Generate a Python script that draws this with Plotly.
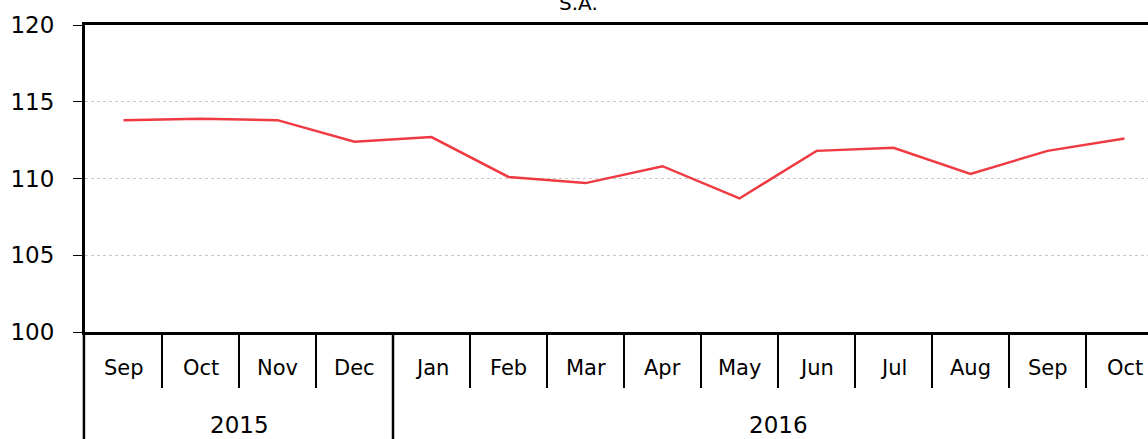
import plotly.graph_objects as go

years = ["2015"] * 4 + ["2016"] * 10
months = ["Sep", "Oct", "Nov", "Dec", "Jan", "Feb", "Mar", "Apr",
          "May", "Jun", "Jul", "Aug", "Sep", "Oct"]
values = [113.8, 113.9, 113.8, 112.4, 112.7, 110.1, 109.7, 110.8,
          108.7, 111.8, 112.0, 110.3, 111.8, 112.6]

FONT = "DejaVu Sans"
idx = list(range(len(months)))

fig = go.Figure(go.Scatter(
    x=idx, y=values,
    mode="lines",
    line=dict(color="#EF3A42", width=2.5),
    showlegend=False,
))

# plot area is 307 px tall; label rows sit below it
PLOT_H = 307.0
month_y = -36 / PLOT_H
year_y = -93 / PLOT_H
tick_bottom = -56 / PLOT_H
year_bottom = -110 / PLOT_H

shapes = []
annotations = []
for i, m in enumerate(months):
    annotations.append(dict(x=i, y=month_y, xref="x", yref="paper", text=m,
                            xanchor="center", yanchor="middle",
                            showarrow=False, font=dict(size=21)))
    if i < len(months) - 1 and years[i] == years[i + 1]:
        shapes.append(dict(type="line", xref="x", yref="paper", x0=i + 0.5, x1=i + 0.5,
                           y0=0, y1=tick_bottom, line=dict(color="black", width=2)))

# year groups
start = 0
for i in range(1, len(years) + 1):
    if i == len(years) or years[i] != years[start]:
        annotations.append(dict(x=(start + i - 1) / 2, y=year_y, xref="x", yref="paper",
                                text=years[start], xanchor="center", yanchor="middle",
                                showarrow=False, font=dict(size=23)))
        if start == 0:
            # left edge: paper ref so the line is not clipped by the plot area
            sep = dict(xref="paper", x0=-0.001, x1=-0.001)
        else:
            sep = dict(xref="x", x0=start - 0.5, x1=start - 0.5)
        shapes.append(dict(type="line", yref="paper", y0=0, y1=year_bottom,
                           line=dict(color="black", width=2.5), **sep))
        start = i

annotations.append(dict(x=0.464, y=1, xref="paper", yref="paper", text="S.A.",
                        xanchor="center", yanchor="middle", yshift=22,
                        showarrow=False, font=dict(size=20)))

fig.update_layout(
    width=1148, height=439,
    margin=dict(l=85, r=0, t=25, b=107, pad=0),
    paper_bgcolor="white", plot_bgcolor="white",
    font=dict(family=FONT, size=21, color="black"),
    shapes=shapes, annotations=annotations,
)

fig.update_xaxes(
    range=[-0.5, 13.305],
    showline=True, linecolor="black", linewidth=3, mirror=True,
    showticklabels=False, ticks="", showgrid=False, zeroline=False,
    automargin=False,
)

fig.update_yaxes(
    range=[100, 120], dtick=5,
    showline=True, linecolor="black", linewidth=3,
    ticks="outside", ticklen=9, tickwidth=1, tickcolor="black",
    ticklabelstandoff=14,
    showgrid=True, gridcolor="#C8C8C8", gridwidth=1, griddash="dot",
    zeroline=False, automargin=False,
    tickfont=dict(family=FONT, size=23),
)

fig.write_html("out.html", config={"displayModeBar": False},
               post_script="document.body.style.margin='0';")
